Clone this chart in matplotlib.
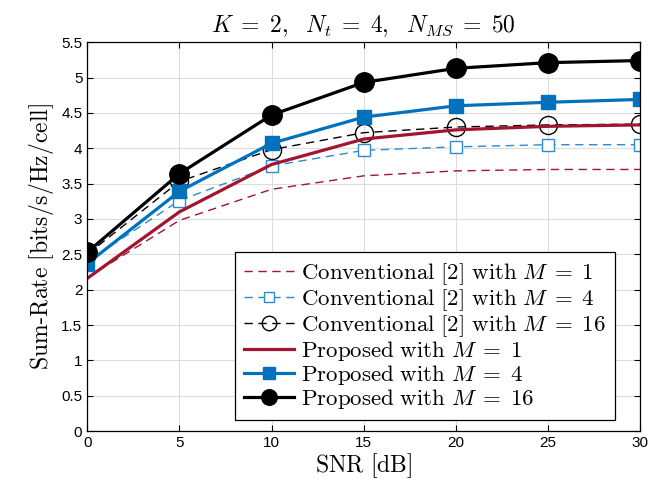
import numpy as np
import matplotlib
matplotlib.use('Agg')
import matplotlib.pyplot as plt

plt.rcParams['mathtext.fontset'] = 'cm'
plt.rcParams['font.family'] = ['Liberation Sans', 'DejaVu Sans']

snr = [0, 5, 10, 15, 20, 25, 30]

conv_m1 = [2.17, 2.98, 3.42, 3.61, 3.68, 3.70, 3.70]
conv_m4 = [2.40, 3.26, 3.75, 3.97, 4.02, 4.05, 4.05]
conv_m16 = [2.50, 3.53, 3.98, 4.22, 4.30, 4.33, 4.34]
prop_m1 = [2.16, 3.10, 3.77, 4.13, 4.26, 4.31, 4.33]
prop_m4 = [2.37, 3.39, 4.07, 4.44, 4.60, 4.65, 4.69]
prop_m16 = [2.53, 3.64, 4.47, 4.93, 5.13, 5.21, 5.24]

red = '#A2142F'
blue = '#0072BD'
blue_light = '#2F8AD0'

fig = plt.figure(figsize=(6.71, 4.90), dpi=100)
ax = fig.add_axes([0.130, 0.120, 0.824, 0.794])

ax.plot(snr, conv_m1, '--', color=red, lw=1.0, dashes=(6, 4),
        label=r'$\mathrm{Conventional\ [2]\ with}\ M\;=\;1$')
ax.plot(snr, conv_m4, '--', color=blue_light, lw=1.0, dashes=(6, 4), marker='s',
        ms=9, mfc='white', mec=blue_light, mew=1.0,
        label=r'$\mathrm{Conventional\ [2]\ with}\ M\;=\;4$')
ax.plot(snr, conv_m16, '--', color='black', lw=1.0, dashes=(6, 4), marker='o',
        ms=13, mfc='none', mec='black', mew=1.0,
        label=r'$\mathrm{Conventional\ [2]\ with}\ M\;=\;16$')
ax.plot(snr, prop_m1, '-', color=red, lw=2.3,
        label=r'$\mathrm{Proposed\ with}\ M\;=\;1$')
ax.plot(snr, prop_m4, '-', color=blue, lw=2.3, marker='s', ms=10,
        mfc=blue, mec=blue, label=r'$\mathrm{Proposed\ with}\ M\;=\;4$')
ax.plot(snr, prop_m16, '-', color='black', lw=2.3, marker='o', ms=14,
        mfc='black', mec='black', label=r'$\mathrm{Proposed\ with}\ M\;=\;16$')

ax.set_xlim(0, 30)
ax.set_ylim(0, 5.5)
ax.set_xticks(np.arange(0, 31, 5))
ax.set_yticks(np.arange(0, 5.51, 0.5))
ax.set_yticklabels(['0', '0.5', '1', '1.5', '2', '2.5', '3', '3.5', '4', '4.5', '5', '5.5'])
ax.tick_params(direction='in', top=True, right=True, labelsize=11, length=4)
ax.grid(True, color='#dcdcdc', lw=0.8)
ax.set_axisbelow(True)
for s in ax.spines.values():
    s.set_linewidth(0.9)

ax.set_xlabel(r'$\mathrm{SNR\ [dB]}$', fontsize=17, labelpad=1)
ax.set_ylabel(r'$\mathrm{Sum}$-$\mathrm{Rate\ [bits/s/Hz/cell]}$', fontsize=17, labelpad=4)
ax.set_title(r'$K\;=\;2,\ \ N_t\;=\;4,\ \ N_{MS}\;=\;50$', fontsize=17, pad=7)

leg = ax.legend(loc='lower right', bbox_to_anchor=(0.955, 0.028), fontsize=16.5,
                fancybox=False, framealpha=1, edgecolor='black',
                handlelength=2.2, handletextpad=0.3, labelspacing=0.0,
                borderpad=0.4, borderaxespad=0, markerscale=0.8)
leg.get_frame().set_linewidth(0.9)

fig.savefig('out.png', dpi=100)
